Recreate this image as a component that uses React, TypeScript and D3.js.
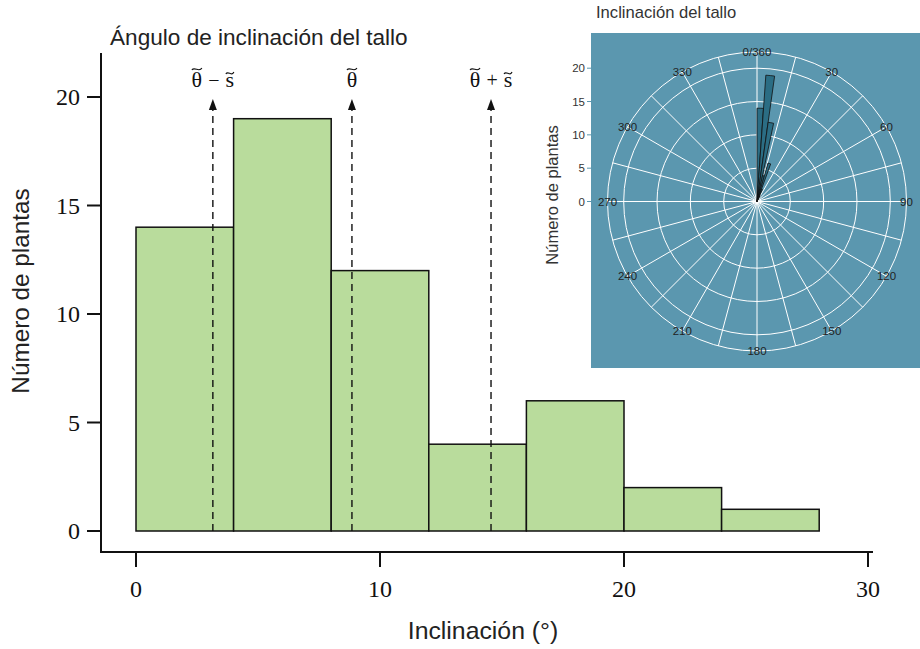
import React from "react";
import * as d3 from "d3";

// histogram bins (degrees) and counts
const binStarts = [0, 4, 8, 12, 16, 20, 24];
const binWidth = 4;
const counts = [14, 19, 12, 4, 6, 2, 1];

// median and robust spread markers
const markerValues = [3.15, 8.85, 14.55];
// each label: [symbol, operator, symbol]
const markerParts = [["θ", " − ", "s"], ["θ", "", ""], ["θ", " + ", "s"]];

const xTicks = [0, 10, 20, 30];
const yTicks = [0, 5, 10, 15, 20];

// inset polar plot
const radialTicks = [0, 5, 10, 15, 20];
const angleLabels = ["0/360", "30", "60", "90", "120", "150", "180", "210", "240", "270", "300", "330"];

const SANS = "'Liberation Sans', Arial, sans-serif";
const SERIF = "'Liberation Serif', 'DejaVu Serif', serif";

// symbol with a tilde drawn above it
function Tilde({ x, y, ch }: { x: number; y: number; ch: string }) {
  const w = ch === "θ" ? 10 : 8;
  const top = ch === "θ" ? y - 18 : y - 14;
  return (
    <g>
      <text x={x} y={y} textAnchor="middle" fontFamily={SERIF} fontSize={22} fill="#111">
        {ch}
      </text>
      <path
        d={`M${x - w / 2},${top + 1} C${x - w / 4},${top - 3} ${x + w / 4},${top + 4} ${x + w / 2},${top - 1}`}
        fill="none"
        stroke="#111"
        strokeWidth={1.1}
      />
    </g>
  );
}

function MarkerLabel({ cx, parts }: { cx: number; parts: string[] }) {
  const y = 87;
  if (!parts[1]) return <Tilde x={cx} y={y} ch={parts[0]} />;
  // theta, operator, s laid out around the centre
  return (
    <g>
      <Tilde x={cx - 16} y={y} ch={parts[0]} />
      <text x={cx + 1} y={y} textAnchor="middle" fontFamily={SERIF} fontSize={20} fill="#111">
        {parts[1].trim()}
      </text>
      <Tilde x={cx + 17} y={y} ch={parts[2]} />
    </g>
  );
}

function Histogram() {
  const x = d3.scaleLinear().domain([0, 30]).range([136, 868]);
  const y = d3.scaleLinear().domain([0, 20]).range([531, 97]);

  return (
    <g>
      <text x={110} y={45} fontFamily={SANS} fontSize={22.6} fill="#222">
        Ángulo de inclinación del tallo
      </text>

      {counts.map((c, i) => (
        <rect
          key={i}
          x={x(binStarts[i])}
          y={y(c)}
          width={x(binStarts[i] + binWidth) - x(binStarts[i])}
          height={y(0) - y(c)}
          fill="#b9dc9c"
          stroke="#111"
          strokeWidth={1.5}
        />
      ))}

      {markerValues.map((v, i) => (
        <g key={i}>
          <line x1={x(v)} x2={x(v)} y1={y(0)} y2={108} stroke="#111" strokeWidth={1.4} strokeDasharray="7,5" />
          <path d={`M${x(v)},99 L${x(v) - 4},110 L${x(v) + 4},110 Z`} fill="#111" />
          <MarkerLabel cx={x(v)} parts={markerParts[i]} />
        </g>
      ))}

      {/* axes */}
      <line x1={101} x2={101} y1={53} y2={553} stroke="#111" strokeWidth={2} />
      <line x1={100} x2={873} y1={552} y2={552} stroke="#111" strokeWidth={2} />
      {yTicks.map((t) => (
        <g key={t}>
          <line x1={87} x2={101} y1={y(t)} y2={y(t)} stroke="#111" strokeWidth={2} />
          <text x={80} y={y(t)} dy="0.35em" textAnchor="end" fontFamily={SERIF} fontSize={24} fill="#111">
            {t}
          </text>
        </g>
      ))}
      {xTicks.map((t) => (
        <g key={t}>
          <line x1={x(t)} x2={x(t)} y1={552} y2={567} stroke="#111" strokeWidth={2} />
          <text x={x(t)} y={597} textAnchor="middle" fontFamily={SERIF} fontSize={24} fill="#111">
            {t}
          </text>
        </g>
      ))}
      <text x={483} y={639} textAnchor="middle" fontFamily={SANS} fontSize={24.8} fill="#222">
        Inclinación (°)
      </text>
      <text transform="translate(29,291) rotate(-90)" textAnchor="middle" fontFamily={SANS} fontSize={24.3} fill="#222">
        Número de plantas
      </text>
    </g>
  );
}

function PolarInset() {
  const cx = 757;
  const cy = 201.5;
  const r = d3.scaleLinear().domain([0, 20]).range([0, 133.3]);
  const outer = 149.5;
  const arc = d3.arc<any>();
  const spokes = d3.range(0, 360, 15);

  return (
    <g>
      <text x={596} y={18} fontFamily={SANS} fontSize={16.6} fill="#333">
        Inclinación del tallo
      </text>
      <rect x={591} y={33} width={329} height={335} fill="#5b97af" />
      <g transform={`translate(${cx},${cy})`}>
        {radialTicks.slice(1).map((t) => (
          <circle key={t} r={r(t)} fill="none" stroke="#fff" strokeWidth={1} />
        ))}
        <circle r={outer} fill="none" stroke="#fff" strokeWidth={1} />
        {spokes.map((a) => {
          const rad = (a * Math.PI) / 180;
          return (
            <line key={a} x1={0} y1={0} x2={outer * Math.sin(rad)} y2={-outer * Math.cos(rad)} stroke="#fff" strokeWidth={1} />
          );
        })}
        {counts.map((c, i) => (
          <path
            key={i}
            d={arc({
              innerRadius: 0,
              outerRadius: r(c),
              startAngle: (binStarts[i] * Math.PI) / 180,
              endAngle: ((binStarts[i] + binWidth) * Math.PI) / 180,
            }) as string}
            fill="#2b6d84"
            stroke="#111"
            strokeWidth={0.8}
          />
        ))}
        {angleLabels.map((lab, i) => {
          const rad = (i * 30 * Math.PI) / 180;
          return (
            <text
              key={lab}
              x={outer * Math.sin(rad)}
              y={-outer * Math.cos(rad)}
              dy="0.35em"
              textAnchor="middle"
              fontFamily={SANS}
              fontSize={11.5}
              fill="#222"
            >
              {lab}
            </text>
          );
        })}
      </g>
      {radialTicks.map((t) => (
        <g key={t}>
          <line x1={587} x2={591} y1={cy - r(t)} y2={cy - r(t)} stroke="#5b97af" strokeWidth={1} />
          <text x={585} y={cy - r(t)} dy="0.35em" textAnchor="end" fontFamily={SANS} fontSize={11.5} fill="#333">
            {t}
          </text>
        </g>
      ))}
      <text transform={`translate(558,195) rotate(-90)`} textAnchor="middle" fontFamily={SANS} fontSize={16.5} fill="#333">
        Número de plantas
      </text>
    </g>
  );
}

export default function App() {
  return (
    <svg width={920} height={649} style={{ position: "absolute", left: 0, top: 0, background: "#fff" }}>
      <Histogram />
      <PolarInset />
    </svg>
  );
}
